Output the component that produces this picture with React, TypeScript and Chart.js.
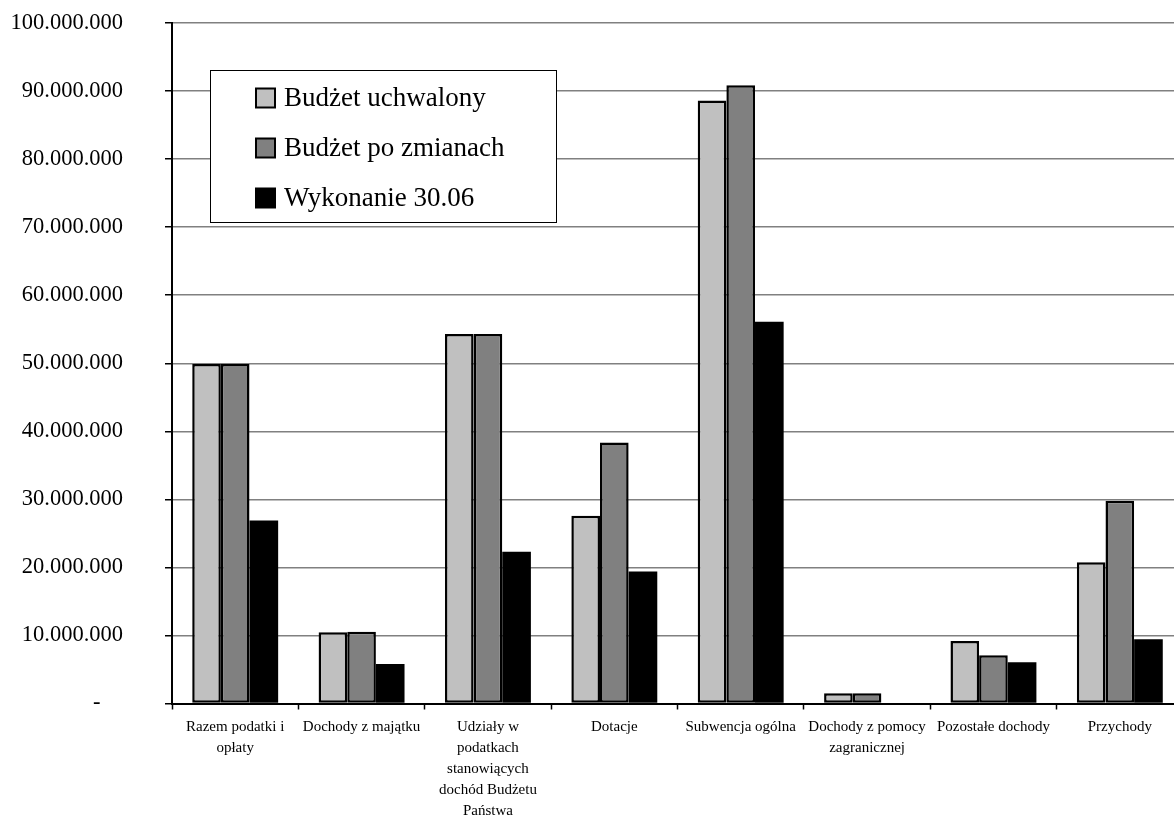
import React, { useEffect, useRef } from "react";
import { Chart, registerables } from "chart.js";

Chart.register(...registerables);

const categories: string[][] = [
  ["Razem podatki i", "opłaty"],
  ["Dochody z majątku"],
  ["Udziały w", "podatkach", "stanowiących", "dochód Budżetu", "Państwa"],
  ["Dotacje"],
  ["Subwencja ogólna"],
  ["Dochody z pomocy", "zagranicznej"],
  ["Pozostałe dochody"],
  ["Przychody"],
];

const seriesNames = ["Budżet uchwalony", "Budżet po zmianach", "Wykonanie 30.06"];

const budzetUchwalony = [49900000, 10470000, 54300000, 27600000, 88600000, 1500000, 9200000, 20760000];
const budzetPoZmianach = [49900000, 10560000, 54300000, 38350000, 90850000, 1500000, 7100000, 29800000];
const wykonanie = [26900000, 5800000, 22300000, 19400000, 56100000, 0, 6050000, 9440000];

const yMin = 0;
const yMax = 100000000;
const yStep = 10000000;

const SERIF = "'Liberation Serif', 'Times New Roman', serif";

function formatPl(v: number): string {
  if (v === 0) return "-    ";
  return Math.round(v)
    .toString()
    .replace(/\B(?=(\d{3})+(?!\d))/g, ".");
}

const boxLegend = {
  id: "boxLegend",
  afterDraw(chart: any) {
    const { ctx, chartArea } = chart;
    const left = chartArea.left + 38;
    const top = chartArea.top + 47;
    const w = 346;
    const h = 152;
    ctx.save();
    ctx.fillStyle = "#ffffff";
    ctx.fillRect(left, top, w, h);
    ctx.strokeStyle = "#000000";
    ctx.lineWidth = 1;
    ctx.strokeRect(left + 0.5, top + 0.5, w, h);
    ctx.font = `27px ${SERIF}`;
    ctx.textBaseline = "middle";
    ctx.textAlign = "left";
    chart.data.datasets.forEach((ds: any, i: number) => {
      const cy = top + 28 + i * 50;
      const sx = left + 46;
      const size = 19;
      ctx.fillStyle = ds.backgroundColor;
      ctx.fillRect(sx, cy - size / 2, size, size);
      ctx.strokeStyle = "#000000";
      ctx.lineWidth = 2;
      ctx.strokeRect(sx, cy - size / 2, size, size);
      ctx.fillStyle = "#000000";
      ctx.fillText(ds.label, sx + 28, cy + 1);
    });
    ctx.restore();
  },
};

export default function App() {
  const canvasRef = useRef<HTMLCanvasElement | null>(null);

  useEffect(() => {
    document.body.style.margin = "0";
    document.body.style.overflow = "hidden";
    const canvas = canvasRef.current;
    if (!canvas) return;
    const chart = new Chart(canvas, {
      type: "bar",
      data: {
        labels: categories,
        datasets: [
          {
            label: seriesNames[0],
            data: budzetUchwalony,
            backgroundColor: "#c0c0c0",
            borderColor: "#000000",
            borderWidth: 2.5,
            borderSkipped: false,
          },
          {
            label: seriesNames[1],
            data: budzetPoZmianach,
            backgroundColor: "#808080",
            borderColor: "#000000",
            borderWidth: 2.5,
            borderSkipped: false,
          },
          {
            label: seriesNames[2],
            data: wykonanie,
            backgroundColor: "#000000",
            borderColor: "#000000",
            borderWidth: 0,
          },
        ],
      },
      options: {
        responsive: false,
        animation: false,
        devicePixelRatio: 1,
        layout: { padding: { top: 23, left: 0, right: 0, bottom: 0 } },
        datasets: {
          bar: { categoryPercentage: 0.68, barPercentage: 1.0 },
        },
        plugins: {
          legend: { display: false },
          tooltip: { enabled: false },
          title: { display: false },
        },
        scales: {
          x: {
            grid: {
              display: true,
              drawOnChartArea: false,
              drawTicks: true,
              tickLength: 6,
              tickColor: "#000000",
              tickWidth: 1.5,
              offset: true,
            },
            border: { display: true, color: "#000000", width: 2 },
            ticks: {
              autoSkip: false,
              maxRotation: 0,
              minRotation: 0,
              color: "#000000",
              padding: 7,
              font: { family: SERIF, size: 15, lineHeight: 1.4 },
            },
            afterFit(scale: any) {
              scale.height = 819 - 703.5;
            },
          },
          y: {
            min: yMin,
            max: yMax,
            grid: {
              color: (c: any) => (c.tick && c.tick.value === 0 ? "#000000" : "#808080"),
              lineWidth: 1.5,
              drawTicks: true,
              tickLength: 7,
              tickColor: "#000000",
              tickWidth: 1.5,
            },
            border: { display: true, color: "#000000", width: 2 },
            ticks: {
              stepSize: yStep,
              color: "#000000",
              padding: 42,
              font: { family: SERIF, size: 22.5 },
              callback: (v: any) => formatPl(Number(v)),
            },
            afterFit(scale: any) {
              scale.width = 172;
              scale.paddingTop = 0;
              scale.paddingBottom = 0;
            },
          },
        },
      },
      plugins: [boxLegend],
    });
    return () => chart.destroy();
  }, []);

  return (
    <div style={{ width: 1174, height: 819, overflow: "hidden", position: "relative", background: "#fff" }}>
      <canvas ref={canvasRef} width={1183} height={819} style={{ width: 1183, height: 819, display: "block" }} />
    </div>
  );
}
